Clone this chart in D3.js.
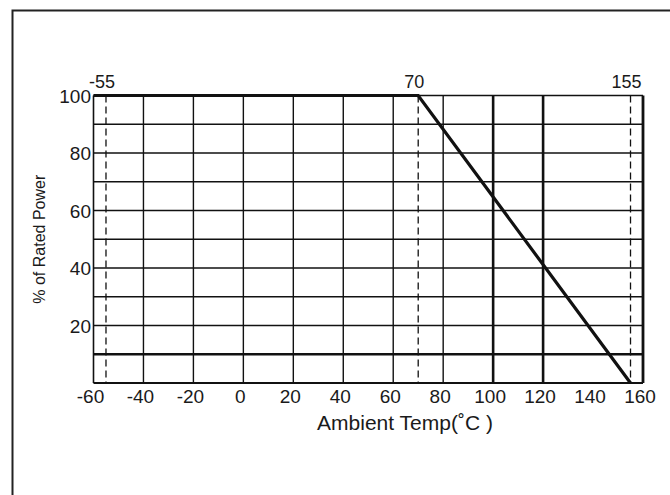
<!DOCTYPE html>
<html>
<head>
<meta charset="utf-8">
<script src="https://cdn.jsdelivr.net/npm/d3@7"></script>
<style>
  body { margin: 0; background: #fff; }
  text { font-family: "Liberation Sans", Arial, sans-serif; fill: #1a1a1a; }
</style>
</head>
<body>
<script>
// derating curve data
var temps = [-60, 70, 155];
var power = [100, 100, 0];

// ticks and grid
var xTicks = [-60, -40, -20, 0, 20, 40, 60, 80, 100, 120, 140, 160];
var xTickLabels = ["-60", "-40", "-20", "0", "20", "40", "60", "80", "100", "120", "140", "160"];
var yTicks = [20, 40, 60, 80, 100];
var gridX = [-40, -20, 0, 20, 40, 60, 80];
var gridXBold = [100, 120];
var gridY = [20, 30, 40, 50, 60, 70, 80, 90];
var gridYBold = [10];
var markTemps = [-55, 70, 155];
var markLabels = ["-55", "70", "155"];

var w = 670;
var h = 495;

var svg = d3.select("body")
            .append("svg")
            .attr("width", w)
            .attr("height", h);

// outer frame (only left and top visible)
svg.append("rect")
   .attr("x", 12.5)
   .attr("y", 10.5)
   .attr("width", w)
   .attr("height", h)
   .attr("fill", "none")
   .attr("stroke", "#222")
   .attr("stroke-width", 2);

var x = d3.scaleLinear().domain([-60, 160]).range([93.5, 643]);
var y = d3.scaleLinear().domain([0, 100]).range([383, 95.5]);

var ink = "#111";

// thin horizontal grid
svg.selectAll(".gy")
   .data(gridY)
   .enter()
   .append("line")
   .attr("x1", x(-60)).attr("x2", x(160))
   .attr("y1", function(d) { return y(d); })
   .attr("y2", function(d) { return y(d); })
   .attr("stroke", ink)
   .attr("stroke-width", 1.4);

// bold horizontal grid
svg.selectAll(".gyb")
   .data(gridYBold)
   .enter()
   .append("line")
   .attr("x1", x(-60)).attr("x2", x(160))
   .attr("y1", function(d) { return y(d); })
   .attr("y2", function(d) { return y(d); })
   .attr("stroke", ink)
   .attr("stroke-width", 2.6);

// thin vertical grid
svg.selectAll(".gx")
   .data(gridX)
   .enter()
   .append("line")
   .attr("y1", y(0)).attr("y2", y(100))
   .attr("x1", function(d) { return x(d); })
   .attr("x2", function(d) { return x(d); })
   .attr("stroke", ink)
   .attr("stroke-width", 1.4);

// bold vertical grid
svg.selectAll(".gxb")
   .data(gridXBold)
   .enter()
   .append("line")
   .attr("y1", y(0)).attr("y2", y(100))
   .attr("x1", function(d) { return x(d); })
   .attr("x2", function(d) { return x(d); })
   .attr("stroke", ink)
   .attr("stroke-width", 2.6);

// dashed temperature markers
svg.selectAll(".mark")
   .data(markTemps)
   .enter()
   .append("line")
   .attr("y1", y(100)).attr("y2", y(0))
   .attr("x1", function(d) { return x(d); })
   .attr("x2", function(d) { return x(d); })
   .attr("stroke", ink)
   .attr("stroke-width", 1.3)
   .attr("stroke-dasharray", "7,4");

// plot border
svg.append("line").attr("x1", x(-60)).attr("x2", x(-60)).attr("y1", y(0)).attr("y2", y(100))
   .attr("stroke", ink).attr("stroke-width", 1.6);
svg.append("line").attr("x1", x(-60)).attr("x2", x(160)).attr("y1", y(0)).attr("y2", y(0))
   .attr("stroke", ink).attr("stroke-width", 1.8);
svg.append("line").attr("x1", x(-60)).attr("x2", x(160)).attr("y1", y(100)).attr("y2", y(100))
   .attr("stroke", ink).attr("stroke-width", 1.4);
svg.append("line").attr("x1", x(160)).attr("x2", x(160)).attr("y1", y(0)).attr("y2", y(100))
   .attr("stroke", ink).attr("stroke-width", 2.8);

// derating curve
var curve = temps.map(function(t, i) { return [t, power[i]]; });
var line = d3.line()
             .x(function(d) { return x(d[0]); })
             .y(function(d) { return y(d[1]); });

svg.append("path")
   .attr("d", line(curve))
   .attr("fill", "none")
   .attr("stroke", ink)
   .attr("stroke-width", 3.2)
   .attr("stroke-linejoin", "miter");

// x tick labels
svg.selectAll(".xt")
   .data(xTicks)
   .enter()
   .append("text")
   .attr("x", function(d) { return x(d) - 3; })
   .attr("y", 403)
   .attr("text-anchor", "middle")
   .attr("font-size", "19px")
   .text(function(d, i) { return xTickLabels[i]; });

// y tick labels
svg.selectAll(".yt")
   .data(yTicks)
   .enter()
   .append("text")
   .attr("x", 91)
   .attr("y", function(d) { return y(d) + 7; })
   .attr("text-anchor", "end")
   .attr("font-size", "19px")
   .text(function(d) { return d; });

// marker labels along the top
svg.selectAll(".mt")
   .data(markTemps)
   .enter()
   .append("text")
   .attr("x", function(d) { return x(d) - 4; })
   .attr("y", 88)
   .attr("text-anchor", "middle")
   .attr("font-size", "18px")
   .text(function(d, i) { return markLabels[i]; });

// x axis title
svg.append("text")
   .attr("x", 405)
   .attr("y", 430)
   .attr("text-anchor", "middle")
   .attr("font-size", "21px")
   .text("Ambient Temp(˚C )");

// y axis title
svg.append("text")
   .attr("transform", "translate(45," + ((y(0) + y(100)) / 2) + ") rotate(-90)")
   .attr("text-anchor", "middle")
   .attr("font-size", "16px")
   .text("% of Rated Power");
</script>
</body>
</html>
